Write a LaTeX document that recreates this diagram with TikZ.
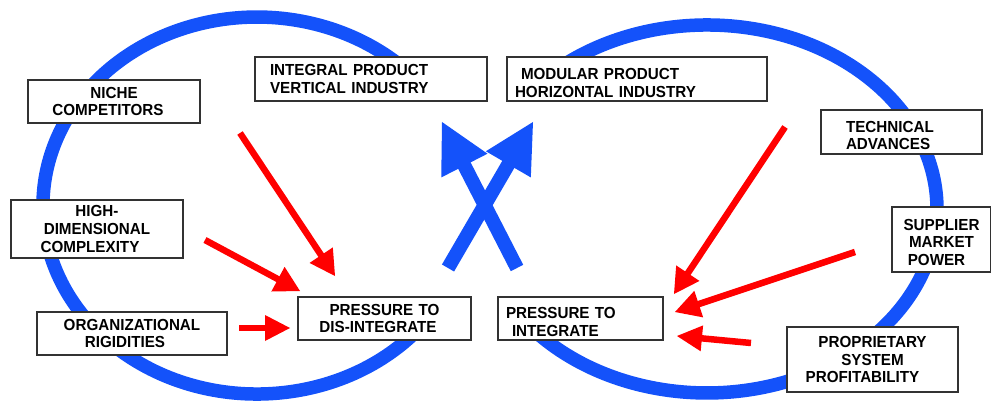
\documentclass[tikz,border=0pt]{standalone}
\usepackage{fontspec}
\setmainfont{Liberation Sans}[FakeStretch=0.95]
\usetikzlibrary{calc}
\definecolor{ringblue}{RGB}{20,82,250}
\definecolor{arrred}{RGB}{255,0,0}
\definecolor{boxgray}{RGB}{50,50,50}
\newcommand\rpad[1]{\hspace*{#1pt}}
\newcommand\dn[1]{\rule{0pt}{#1pt}}
% #1 colour, #2 start, #3 tip, #4 shaft width, #5 head length, #6 head half-width
\newcommand\fatarrow[6]{%
  \coordinate (#3-b) at ($(#3)!#5!(#2)$);
  \coordinate (#3-m) at ($(#3)!0.75!(#3-b)$);
  \coordinate (#3-l) at ($(#3-b)!#6!90:(#3)$);
  \coordinate (#3-r) at ($(#3-b)!#6!-90:(#3)$);
  \draw[draw=#1, line width=#4, line cap=butt] (#2) -- (#3-m);
  \fill[#1] (#3) -- (#3-l) -- (#3-r) -- cycle;}
\begin{document}
\begin{tikzpicture}[x=1pt,y=-1pt,
  ring/.style={draw=ringblue, line width=13.5pt},
  box/.style={draw=boxgray, line width=1.2pt, fill=white, inner ysep=0pt,
    text=black, font=\bfseries\fontsize{16}{17.7}\selectfont},
  cbox/.style={box, inner xsep=0pt, align=center},
  lbox/.style={box, align=left},
]
\useasboundingbox (0,0) rectangle (991,401);

% loops
\draw[ring] (420.9,326.7) arc[start angle=40,end angle=320,x radius=214,y radius=188.5];
\draw[ring] (530.8,90.7) arc[start angle=-140,end angle=140,x radius=230,y radius=184];

% boxes
\node[cbox, text width=172pt, minimum height=43pt] (niche) at (114,101.5)
  {NICHE\rpad{12}\\COMPETITORS\rpad{12}};
\node[cbox, text width=172pt, minimum height=58pt] (highdim) at (97,229)
  {HIGH-\rpad{14}\\DIMENSIONAL\rpad{14}\\COMPLEXITY\rpad{14}};
\node[cbox, text width=190pt, minimum height=43pt] (orgrig) at (132,333.5)
  {ORGANIZATIONAL\rpad{14}\\RIGIDITIES\rpad{14}};
\node[cbox, text width=173pt, minimum height=43pt] (disint) at (384.5,318.5)
  {PRESSURE TO\rpad{13}\\DIS-INTEGRATE\rpad{13}};
\node[cbox, text width=99pt, minimum height=65pt] (supplier) at (941.5,239.5)
  {\dn{17}SUPPLIER\rpad{10}\\MARKET\rpad{10}\\POWER\rpad{10}};
\node[cbox, text width=171pt, minimum height=65pt] (propr) at (872.5,359.5)
  {PROPRIETARY\rpad{20}\\SYSTEM\rpad{20}\\PROFITABILITY\rpad{20}};

\node[lbox, inner xsep=15pt, text width=202pt, minimum height=44pt] (integral) at (371,79)
  {INTEGRAL PRODUCT\\VERTICAL INDUSTRY};
\node[lbox, inner xsep=8pt, text width=244pt, minimum height=44pt] (modular) at (637,79)
  {\dn{19.5}\hspace*{6pt}MODULAR PRODUCT\\HORIZONTAL INDUSTRY};
\node[lbox, inner xsep=25pt, text width=111pt, minimum height=44pt] (technical) at (901.5,132)
  {\dn{18.3}TECHNICAL\\ADVANCES};
\node[lbox, inner xsep=8pt, text width=149pt, minimum height=43pt] (integrate) at (580.5,318.5)
  {\dn{18.5}PRESSURE TO\\\hspace*{6pt}INTEGRATE};

% red arrows
\coordinate (r1s) at (240,133);  \coordinate (r1e) at (335,276);
\coordinate (r2s) at (205,240);  \coordinate (r2e) at (300,291);
\coordinate (r3s) at (239,328);  \coordinate (r3e) at (290,328);
\coordinate (r4s) at (785,127);  \coordinate (r4e) at (674,294);
\coordinate (r5s) at (855,252);  \coordinate (r5e) at (675,312);
\coordinate (r6s) at (751,343);  \coordinate (r6e) at (677,336);
\fatarrow{arrred}{r1s}{r1e}{6.5pt}{25pt}{14pt}
\fatarrow{arrred}{r2s}{r2e}{6.5pt}{25pt}{14pt}
\fatarrow{arrred}{r3s}{r3e}{6.5pt}{25pt}{13pt}
\fatarrow{arrred}{r4s}{r4e}{6.5pt}{25pt}{14pt}
\fatarrow{arrred}{r5s}{r5e}{6.5pt}{25pt}{14pt}
\fatarrow{arrred}{r6s}{r6e}{6.5pt}{25pt}{13pt}

% crossing blue arrows
\coordinate (xa1) at (448,268); \coordinate (xa2) at (533,122);
\coordinate (xb1) at (517,268); \coordinate (xb2) at (442,122);
\fatarrow{ringblue}{xa1}{xa2}{14pt}{49pt}{26pt}
\fatarrow{ringblue}{xb1}{xb2}{14pt}{49pt}{26pt}
\end{tikzpicture}
\end{document}
